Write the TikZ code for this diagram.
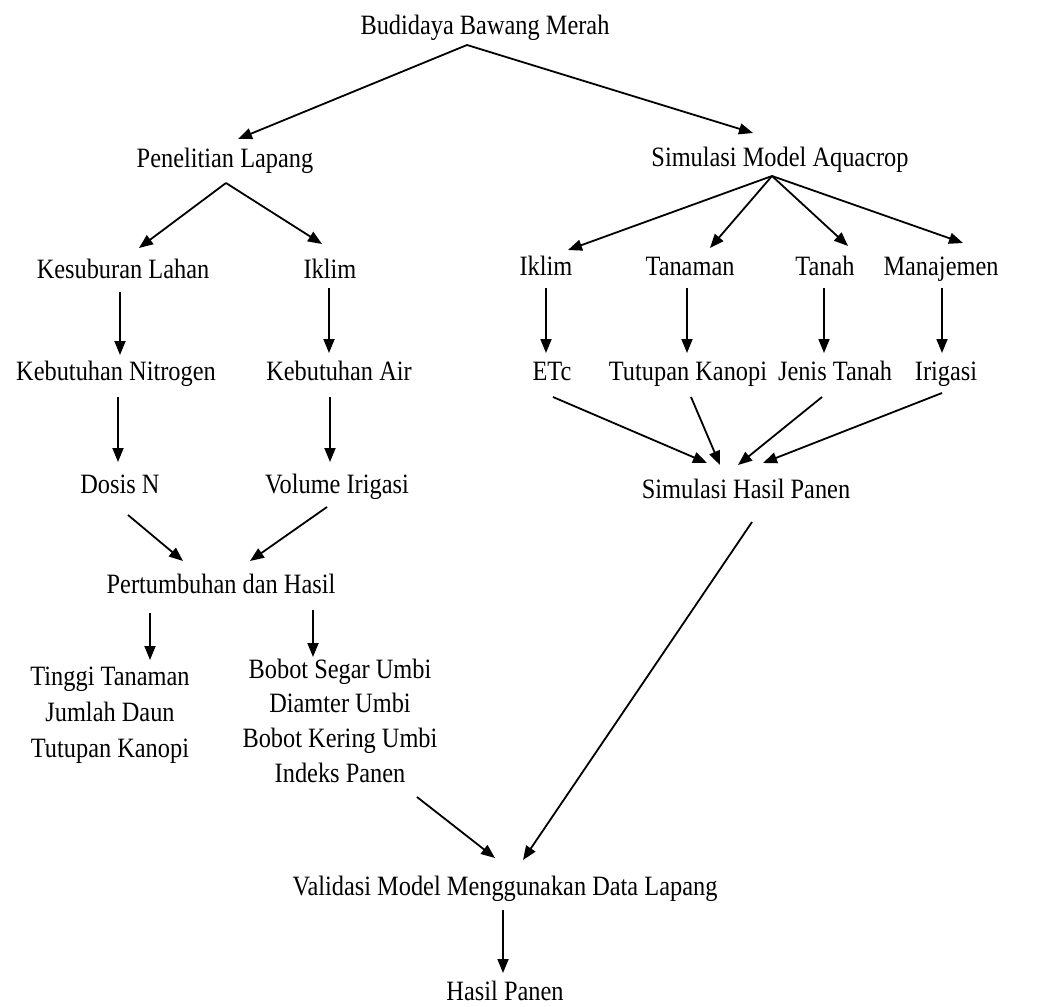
\documentclass[tikz,border=0pt]{standalone}
\usepackage{fontspec}
\setmainfont[FakeStretch=0.87]{Liberation Serif}
\usetikzlibrary{arrows.meta}
\begin{document}
\begin{tikzpicture}[x=1pt,y=-1pt,
  txt/.style={inner sep=0pt, anchor=base, font=\fontsize{28}{35}\selectfont},
  arr/.style={line width=1.8pt, -{Triangle[length=14pt,width=11pt]}}]
\useasboundingbox[fill=white] (0,0) rectangle (1040,1006);
% nodes
\node[txt] (budi) at (485,35) {Budidaya Bawang Merah};
\node[txt] (pen) at (225,167) {Penelitian Lapang};
\node[txt] (sim) at (780,166) {Simulasi Model Aquacrop};
\node[txt] (kes) at (123,278) {Kesuburan Lahan};
\node[txt] (ikl) at (330,278) {Iklim};
\node[txt] (kn) at (116,380) {Kebutuhan Nitrogen};
\node[txt] (ka) at (339,380) {Kebutuhan Air};
\node[txt] (dn) at (120,493) {Dosis N};
\node[txt] (vi) at (337,493) {Volume Irigasi};
\node[txt] (pdh) at (221,593) {Pertumbuhan dan Hasil};
\node[txt, font=\fontsize{28}{36}\selectfont] (tt) at (110,685)
  {\begin{tabular}[t]{@{}c@{}}Tinggi Tanaman\\Jumlah Daun\\Tutupan Kanopi\end{tabular}};
\node[txt, font=\fontsize{28}{34.7}\selectfont] (bb) at (340,678)
  {\begin{tabular}[t]{@{}c@{}}Bobot Segar Umbi\\Diamter Umbi\\Bobot Kering Umbi\\Indeks Panen\end{tabular}};
\node[txt] (ikr) at (546,275) {Iklim};
\node[txt] (tan) at (690,275) {Tanaman};
\node[txt] (tnh) at (825,275) {Tanah};
\node[txt] (man) at (941,275) {Manajemen};
\node[txt] (etc) at (552,380) {ETc};
\node[txt] (tk) at (688,380) {Tutupan Kanopi};
\node[txt] (jt) at (835,380) {Jenis Tanah};
\node[txt] (iri) at (946,380) {Irigasi};
\node[txt] (shp) at (746,498) {Simulasi Hasil Panen};
\node[txt] (val) at (505,895) {Validasi Model Menggunakan Data Lapang};
\node[txt] (hp) at (505,1000) {Hasil Panen};
% connectors
\draw[arr] ([shift={(-18,10)}]budi.base) -- ([shift={(13,-28)}]pen.base);
\draw[arr] ([shift={(-18,10)}]budi.base) -- ([shift={(-27,-33)}]sim.base);
\draw[arr] ([shift={(1,16)}]pen.base) -- ([shift={(16,-30)}]kes.base);
\draw[arr] ([shift={(1,16)}]pen.base) -- ([shift={(-8,-34)}]ikl.base);
\draw[arr] ([shift={(-3,14)}]kes.base) -- ([shift={(4,-25)}]kn.base);
\draw[arr] ([shift={(-1,10)}]ikl.base) -- ([shift={(-10,-27)}]ka.base);
\draw[arr] ([shift={(2,17)}]kn.base) -- ([shift={(-2,-31)}]dn.base);
\draw[arr] ([shift={(-9,17)}]ka.base) -- ([shift={(-7,-31)}]vi.base);
\draw[arr] ([shift={(8,22)}]dn.base) -- ([shift={(-38,-32)}]pdh.base);
\draw[arr] ([shift={(-10,14)}]vi.base) -- ([shift={(29,-32)}]pdh.base);
\draw[arr] ([shift={(-71,20)}]pdh.base) -- ([shift={(40,-25)}]tt.base);
\draw[arr] ([shift={(92,17)}]pdh.base) -- ([shift={(-27,-21)}]bb.base);
\draw[arr] ([shift={(-8,10)}]sim.base) -- ([shift={(22,-25)}]ikr.base);
\draw[arr] ([shift={(-8,10)}]sim.base) -- ([shift={(20,-27)}]tan.base);
\draw[arr] ([shift={(-8,10)}]sim.base) -- ([shift={(23,-29)}]tnh.base);
\draw[arr] ([shift={(-8,10)}]sim.base) -- ([shift={(22,-32)}]man.base);
\draw[arr] ([shift={(0,13)}]ikr.base) -- ([shift={(-6,-27)}]etc.base);
\draw[arr] ([shift={(-3,13)}]tan.base) -- ([shift={(-1,-27)}]tk.base);
\draw[arr] ([shift={(-1,13)}]tnh.base) -- ([shift={(-11,-27)}]jt.base);
\draw[arr] ([shift={(1,13)}]man.base) -- ([shift={(-4,-27)}]iri.base);
\draw[arr] ([shift={(1,17)}]etc.base) -- ([shift={(-39,-35)}]shp.base);
\draw[arr] ([shift={(3,17)}]tk.base) -- ([shift={(-26,-33)}]shp.base);
\draw[arr] ([shift={(-13,17)}]jt.base) -- ([shift={(-8,-33)}]shp.base);
\draw[arr] ([shift={(-4,13)}]iri.base) -- ([shift={(17,-35)}]shp.base);
\draw[arr] ([shift={(6,24)}]shp.base) -- ([shift={(18,-35)}]val.base);
\draw[arr] ([shift={(77,119)}]bb.base) -- ([shift={(-10,-37)}]val.base);
\draw[arr] ([shift={(-2,15)}]val.base) -- ([shift={(-2,-27)}]hp.base);
\end{tikzpicture}
\end{document}
